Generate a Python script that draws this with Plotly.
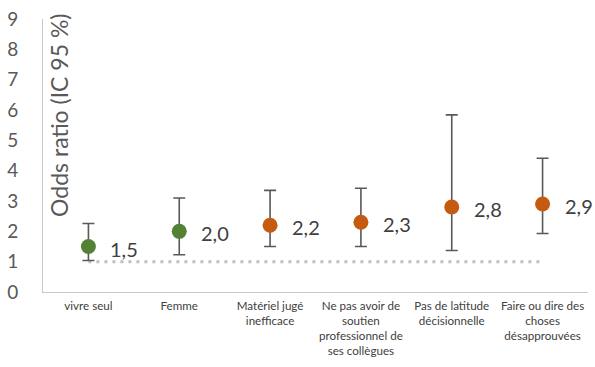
import plotly.graph_objects as go

# Facteurs et odds ratios avec intervalle de confiance à 95 %
categories = [
    "vivre seul",
    "Femme",
    "Matériel jugé<br>inefficace",
    "Ne pas avoir de<br>soutien<br>professionnel de<br>ses collègues",
    "Pas de latitude<br>décisionnelle",
    "Faire ou dire des<br>choses<br>désapprouvées",
]
odds_ratio = [1.5, 2.0, 2.2, 2.3, 2.8, 2.9]
ci_low = [1.04, 1.23, 1.5, 1.5, 1.37, 1.93]
ci_high = [2.26, 3.1, 3.35, 3.42, 5.84, 4.41]
labels = ["1,5", "2,0", "2,2", "2,3", "2,8", "2,9"]
point_colors = ["#548235", "#548235", "#C55A11", "#C55A11", "#C55A11", "#C55A11"]
reference = [1, 1, 1, 1, 1, 1]
y_ticks = list(range(10))

FONT = "Lato"
x_pos = list(range(len(categories)))

fig = go.Figure()

# Ligne de référence OR = 1
fig.add_trace(go.Scatter(
    x=x_pos, y=reference, mode="lines",
    line=dict(color="#BFBFBF", width=3, dash="3px,5px"),
    hoverinfo="skip", showlegend=False,
))

# Odds ratios avec barres d'erreur
fig.add_trace(go.Scatter(
    x=x_pos, y=odds_ratio, mode="markers",
    marker=dict(size=15, color=point_colors),
    error_y=dict(
        type="data", symmetric=False,
        array=[h - v for h, v in zip(ci_high, odds_ratio)],
        arrayminus=[v - l for v, l in zip(odds_ratio, ci_low)],
        color="#595959", thickness=1.6, width=6,
    ),
    showlegend=False,
))

# Étiquettes de valeurs
for xi, v, t in zip(x_pos, odds_ratio, labels):
    fig.add_annotation(
        x=xi, y=v, text=t, showarrow=False, xanchor="left",
        xshift=20, yshift=-2,
        font=dict(family=FONT, size=20, color="#404040"),
    )

# Titre de l'axe vertical placé dans la zone de tracé
fig.add_annotation(
    xref="paper", yref="paper", x=0.028, y=0.646,
    xanchor="center", yanchor="middle",
    text="Odds ratio (IC 95 %)", textangle=-90, showarrow=False,
    font=dict(family=FONT, size=23, color="#595959"),
)

fig.update_layout(
    width=595, height=367,
    margin=dict(l=43, r=7, t=16, b=75),
    paper_bgcolor="white", plot_bgcolor="white",
    font=dict(family=FONT, color="#404040"),
    xaxis=dict(
        tickmode="array", tickvals=x_pos, ticktext=categories,
        range=[-0.5, len(categories) - 0.5],
        showgrid=False, zeroline=False,
        showline=True, linecolor="#C8C8C8", linewidth=1,
        ticks="", ticklabelstandoff=3,
        tickfont=dict(family=FONT, size=11.6, color="#404040"),
    ),
    yaxis=dict(
        range=[0, 9], tickvals=y_ticks,
        showgrid=False, zeroline=False,
        showline=True, linecolor="#C8C8C8", linewidth=1,
        ticks="", ticklabelstandoff=20,
        tickfont=dict(family=FONT, size=19, color="#595959"),
    ),
)

fig.write_html("out.html")
